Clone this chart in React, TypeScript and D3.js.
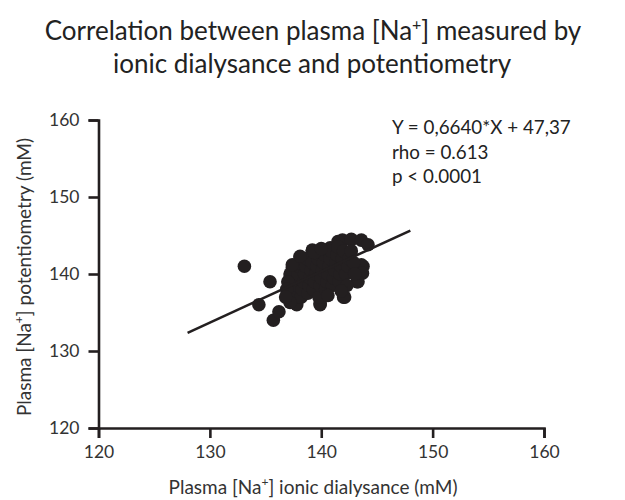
import React, { useEffect, useRef } from "react";
import * as d3 from "d3";

// measured values, [ionic dialysance, potentiometry] in mM
const potentiometryTicks = [120, 130, 140, 150, 160];
const dialysanceTicks = [120, 130, 140, 150, 160];
const dialysance = [
  133.1, 135.4, 134.4, 135.7, 136.2, 142.0, 139.9, 137.8, 143.75, 143.2, 139.2, 140.6,
  141.9, 142.7, 143.6, 144.2, 139.2, 140.8, 141.5, 143.6, 143.7, 143.3, 142.1, 139.9,
  138.1, 137.2, 137.4, 138.1,
  137.1, 137.3, 137.5, 137.2, 137.6, 137.8, 137.9, 138.0, 138.2, 138.3, 138.4, 138.5,
  138.6, 138.7, 138.8, 138.9, 139.0, 139.1, 139.2, 139.3, 139.4, 139.5, 139.6, 139.7,
  139.8, 139.9, 140.0, 140.1, 140.2, 140.3, 140.4, 140.5, 140.6, 140.7, 140.8, 140.9,
  141.0, 141.1, 141.2, 141.3, 141.4, 141.5, 141.6, 141.7, 141.8, 141.9, 142.0, 142.2,
  142.4, 142.5, 142.7, 142.3, 141.8, 140.6, 137.0, 136.9, 137.4, 138.1, 139.4, 140.0,
  142.9, 143.0, 137.2, 136.8,
];
const potentiometry = [
  141, 139, 136, 134, 135.1, 137, 136, 136, 141, 139, 143, 143.1,
  144.4, 144.5, 144.4, 143.8, 143.1, 143.4, 144.2, 141.2, 140.1, 139, 137, 136.2,
  137, 139.5, 140.8, 142.1,
  137, 138, 139, 140, 137.5, 138.5, 140, 141, 137, 138, 139, 140,
  141, 142, 137.5, 138.5, 139.5, 140.5, 141.5, 138, 139, 140, 141, 142,
  137, 138.5, 139.5, 140.5, 141.5, 142.5, 138, 139, 140, 141, 142, 143,
  138.5, 139.5, 140.5, 141.5, 142.5, 143.5, 139, 140, 141, 142, 143, 140,
  141, 142, 143, 138.5, 137.8, 137.2, 139, 138, 141.2, 142.3, 142.8, 143.3,
  141.5, 140, 136.3, 137,
];
const slope = 0.664;
const intercept = 47.37;
const fitRange = [128, 148];
const statLines = ["Y = 0,6640*X + 47,37", "rho = 0.613", "p < 0.0001"];

const ink = "#231f20";
const font = "Lato, 'Open Sans', sans-serif";

const App: React.FC = () => {
  const svgRef = useRef<SVGSVGElement | null>(null);
  const width = 625;
  const height = 500;

  const x = d3.scaleLinear().domain([120, 160]).range([98.5, 544]);
  const y = d3.scaleLinear().domain([120, 160]).range([428, 120]);

  useEffect(() => {
    if (!svgRef.current) return;
    const svg = d3.select(svgRef.current);
    svg.selectAll(".axis").remove();

    const xAxis = svg
      .append("g")
      .attr("class", "axis")
      .attr("transform", `translate(0,${y(120)})`)
      .call(d3.axisBottom(x).tickValues(dialysanceTicks).tickSize(10).tickPadding(8));
    const yAxis = svg
      .append("g")
      .attr("class", "axis")
      .attr("transform", `translate(${x(120)},0)`)
      .call(d3.axisLeft(y).tickValues(potentiometryTicks).tickSize(10).tickPadding(9));

    [xAxis, yAxis].forEach((g) => {
      g.select(".domain").attr("stroke", ink).attr("stroke-width", 2.6);
      g.selectAll(".tick line").attr("stroke", ink).attr("stroke-width", 2.6);
      g.selectAll(".tick text")
        .attr("fill", "#333")
        .style("font-family", font)
        .style("font-size", "17.5px");
    });
  }, []);

  return (
    <svg
      ref={svgRef}
      width={width}
      height={height}
      style={{ position: "absolute", left: 0, top: 0, background: "#fff" }}
    >
      <g fontFamily={font} fill="#222" textAnchor="middle" fontSize={26}>
        <text x={313} y={40}>
          Correlation between plasma [Na
          <tspan dy={-10} fontSize={16}>+</tspan>
          <tspan dy={10}>] measured by</tspan>
        </text>
        <text x={312} y={73}>ionic dialysance and potentiometry</text>
      </g>

      {dialysance.map((d, i) => (
        <circle key={i} cx={x(d)} cy={y(potentiometry[i])} r={6.8} fill={ink} />
      ))}

      <line
        x1={x(fitRange[0])}
        y1={y(slope * fitRange[0] + intercept)}
        x2={x(fitRange[1])}
        y2={y(slope * fitRange[1] + intercept)}
        stroke={ink}
        strokeWidth={2.6}
      />

      <g fontFamily={font} fill="#222" fontSize={18.8}>
        {statLines.map((s, i) => (
          <text key={i} x={392} y={134} dy={i * 24.5}>
            {s}
          </text>
        ))}
      </g>

      <g fontFamily={font} fill="#333" fontSize={19} textAnchor="middle">
        <text x={313} y={494}>
          Plasma [Na<tspan dy={-8} fontSize={12}>+</tspan>
          <tspan dy={8}>] ionic dialysance (mM)</tspan>
        </text>
        <text transform={`translate(31,${277}) rotate(-90)`}>
          Plasma [Na<tspan dy={-8} fontSize={12}>+</tspan>
          <tspan dy={8}>] potentiometry (mM)</tspan>
        </text>
      </g>
    </svg>
  );
};

export default App;
